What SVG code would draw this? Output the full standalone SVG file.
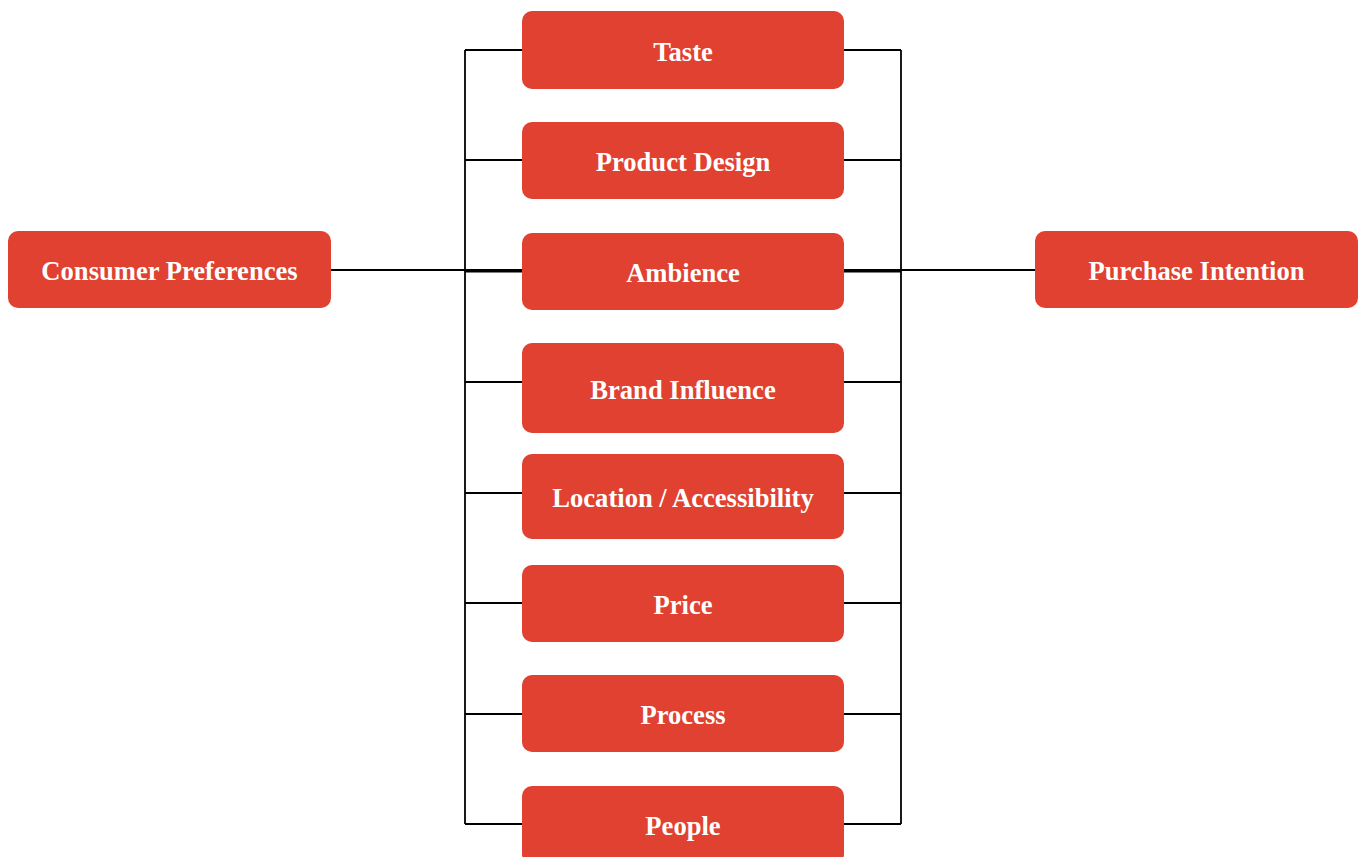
<svg xmlns="http://www.w3.org/2000/svg" width="1362" height="857" viewBox="0 0 1362 857">
  <style>
    .box { fill: #E04130; }
    .lbl { fill: #ffffff; font-family: "Liberation Serif", "Times New Roman", serif; font-weight: bold; font-size: 26.6px; text-anchor: middle; }
    .wire { stroke: #000000; stroke-width: 1.8; fill: none; }
  </style>
  <rect width="1362" height="857" fill="#ffffff"/>

  <!-- connectors -->
  <g id="connectors">
    <!-- main axis from source to outcome -->
    <line class="wire" x1="331" y1="270" x2="1035" y2="270"/>
    <!-- left and right buses -->
    <line class="wire" x1="465" y1="50" x2="465" y2="824"/>
    <line class="wire" x1="901" y1="50" x2="901" y2="824"/>
    <!-- branches into each factor -->
    <path class="wire" d="M465 50H522M844 50H901"/>
    <path class="wire" d="M465 160H522M844 160H901"/>
    <path class="wire" d="M465 271.5H522M844 271.5H901"/>
    <path class="wire" d="M465 382H522M844 382H901"/>
    <path class="wire" d="M465 493H522M844 493H901"/>
    <path class="wire" d="M465 603H522M844 603H901"/>
    <path class="wire" d="M465 714H522M844 714H901"/>
    <path class="wire" d="M465 824H522M844 824H901"/>
  </g>

  <g id="consumer-preferences">
    <rect class="box" x="8" y="231" width="323" height="77" rx="10"/>
    <text class="lbl" x="169.5" y="280">Consumer Preferences</text>
  </g>
  <g id="purchase-intention">
    <rect class="box" x="1035" y="231" width="323" height="77" rx="10"/>
    <text class="lbl" x="1196.5" y="280">Purchase Intention</text>
  </g>

  <g id="taste">
    <rect class="box" x="522" y="11" width="322" height="78" rx="10"/>
    <text class="lbl" x="683" y="60.5">Taste</text>
  </g>
  <g id="product-design">
    <rect class="box" x="522" y="122" width="322" height="77" rx="10"/>
    <text class="lbl" x="683" y="171">Product Design</text>
  </g>
  <g id="ambience">
    <rect class="box" x="522" y="233" width="322" height="77" rx="10"/>
    <text class="lbl" x="683" y="282">Ambience</text>
  </g>
  <g id="brand-influence">
    <rect class="box" x="522" y="343" width="322" height="90" rx="10"/>
    <text class="lbl" x="683" y="399">Brand Influence</text>
  </g>
  <g id="location-accessibility">
    <rect class="box" x="522" y="454" width="322" height="85" rx="10"/>
    <text class="lbl" x="683" y="507">Location / Accessibility</text>
  </g>
  <g id="price">
    <rect class="box" x="522" y="565" width="322" height="77" rx="10"/>
    <text class="lbl" x="683" y="614">Price</text>
  </g>
  <g id="process">
    <rect class="box" x="522" y="675" width="322" height="77" rx="10"/>
    <text class="lbl" x="683" y="724">Process</text>
  </g>
  <g id="people">
    <rect class="box" x="522" y="786" width="322" height="78" rx="10"/>
    <text class="lbl" x="683" y="835">People</text>
  </g>
</svg>
